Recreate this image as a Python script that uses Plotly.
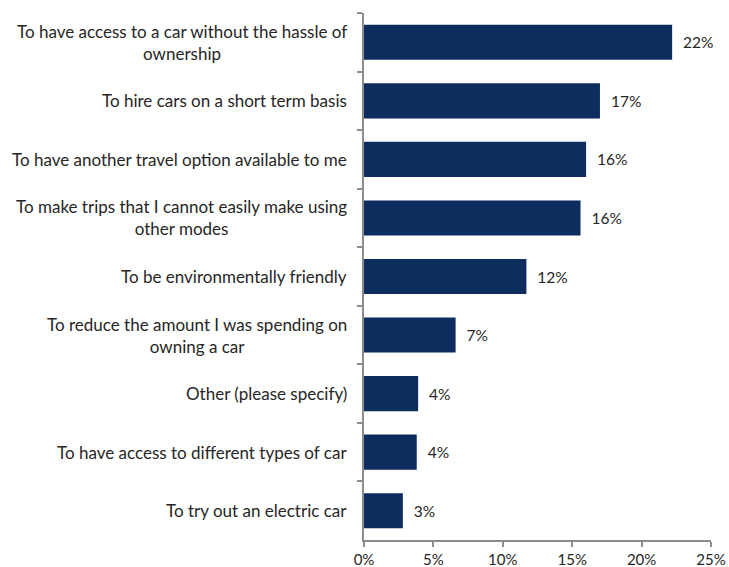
import plotly.graph_objects as go

# Reasons for joining a car club (share of respondents, %)
reasons = [
    "To have access to a car without the hassle of<br>ownership",
    "To hire cars on a short term basis",
    "To have another travel option available to me",
    "To make trips that I cannot easily make using<br>other modes",
    "To be environmentally friendly",
    "To reduce the amount I was spending on<br>owning a car",
    "Other (please specify)",
    "To have access to different types of car",
    "To try out an electric car",
]
shares = [22.2, 17.0, 16.0, 15.6, 11.7, 6.6, 3.9, 3.8, 2.8]
x_ticks = [0, 5, 10, 15, 20, 25]
x_tick_labels = ["0%", "5%", "10%", "15%", "20%", "25%"]

FONT = "Lato, 'Open Sans', sans-serif"
TEXT = "#262626"
AXIS = "#8c8c8c"
NAVY = "#0c2d5e"

fig = go.Figure(
    go.Bar(
        x=shares,
        y=reasons,
        orientation="h",
        marker=dict(color=NAVY, line=dict(width=0)),
        texttemplate="\u00a0\u00a0%{x:.0f}%",
        textposition="outside",
        textfont=dict(family=FONT, size=15.5, color=TEXT),
        cliponaxis=False,
        hoverinfo="skip",
    )
)

# Category labels: right-aligned block, lines centred within it
annotations = [
    dict(
        x=0, xref="paper", xanchor="right", xshift=-15,
        y=r, yref="y", yanchor="middle",
        text=r, align="center", showarrow=False,
        font=dict(family=FONT, size=17, color=TEXT),
    )
    for r in reasons
]

fig.update_layout(
    width=729,
    height=567,
    margin=dict(l=364, r=18, t=13, b=27),
    paper_bgcolor="white",
    plot_bgcolor="white",
    bargap=0.40,
    showlegend=False,
    annotations=annotations,
    font=dict(family=FONT, size=15, color=TEXT),
)
fig.update_xaxes(
    range=[0, 25],
    tickvals=x_ticks,
    ticktext=x_tick_labels,
    automargin=False,
    showgrid=False,
    zeroline=False,
    showline=True,
    linecolor=AXIS,
    linewidth=2,
    ticks="outside",
    ticklen=5,
    tickwidth=2,
    tickcolor=AXIS,
    tickfont=dict(family=FONT, size=15, color=TEXT),
)
fig.update_yaxes(
    autorange="reversed",
    automargin=False,
    showticklabels=False,
    showgrid=False,
    showline=True,
    linecolor=AXIS,
    linewidth=2,
    ticks="outside",
    tickson="boundaries",
    ticklen=5,
    tickwidth=2,
    tickcolor=AXIS,
)

fig.write_html("out.html")
